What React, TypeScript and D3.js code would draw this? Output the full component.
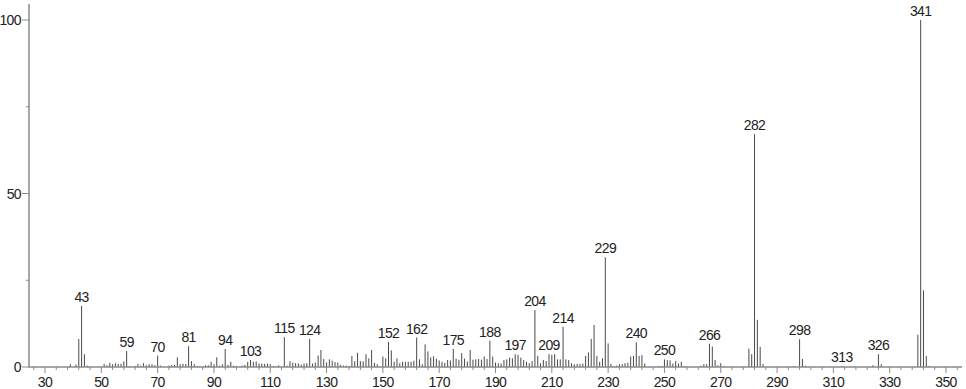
import React from "react";
import * as d3 from "d3";

const mzValues: number[] = [
  39, 41, 42, 43, 44, 45, 51, 52, 53, 54, 55, 56, 57, 58, 59, 60, 62, 63, 64, 65, 66, 67, 68, 69, 70, 71,
  74, 75, 76, 77, 78, 79, 80, 81, 82, 83, 84, 85, 87, 88, 89, 90, 91, 92, 93, 94, 95, 96, 97, 98, 100,
  101, 102, 103, 104, 105, 106, 107, 108, 109, 110, 111, 112, 113, 115, 116, 117, 118, 119, 120, 121,
  122, 123, 124, 125, 126, 127, 128, 129, 130, 131, 132, 133, 134, 135, 136, 137, 138, 139, 140, 141,
  142, 143, 144, 145, 146, 147, 148, 150, 151, 152, 153, 154, 155, 156, 157, 158, 159, 160, 161, 162,
  163, 164, 165, 166, 167, 168, 169, 170, 171, 172, 173, 174, 175, 176, 177, 178, 179, 180, 181, 182,
  183, 184, 185, 186, 187, 188, 189, 190, 191, 192, 193, 194, 195, 196, 197, 198, 199, 200, 201, 202,
  203, 204, 205, 206, 207, 208, 209, 210, 211, 212, 213, 214, 215, 216, 217, 218, 219, 220, 221, 222,
  223, 224, 225, 226, 227, 228, 229, 230, 231, 232, 233, 234, 235, 236, 237, 238, 239, 240, 241, 242,
  243, 248, 249, 250, 251, 252, 253, 254, 255, 256, 257, 263, 264, 265, 266, 267, 268, 269, 270, 271,
  280, 281, 282, 283, 284, 285, 296, 298, 299, 300, 313, 324, 326, 327, 340, 341, 342, 343, 344,
];

const intensities: number[] = [
  0.8, 0.7, 8.1, 17.6, 3.7, 0.4, 0.9, 0.5, 1.2, 0.8, 1.1, 0.9, 0.9, 1.6, 4.6, 0.3, 0.3, 0.9, 0.4, 1.1, 0.5, 0.8, 0.8, 0.5, 3.3, 0.4,
  0.4, 0.6, 0.6, 2.8, 0.8, 0.9, 0.9, 6.0, 1.7, 0.8, 0.3, 0.3, 0.5, 0.5, 1.5, 0.8, 2.8, 0.4, 0.8, 5.2, 0.6, 1.5, 0.4, 0.3, 0.4,
  0.6, 1.5, 2.0, 1.5, 1.6, 1.0, 1.0, 0.9, 1.0, 0.8, 0.3, 0.2, 0.5, 8.6, 0.4, 1.7, 1.3, 1.1, 1.0, 0.7,
  1.0, 1.1, 8.1, 1.0, 1.3, 3.3, 4.9, 2.3, 1.3, 2.2, 1.8, 1.4, 1.3, 0.6, 0.4, 0.4, 0.3, 3.2, 1.7, 4.1,
  1.7, 1.6, 3.7, 2.5, 4.9, 1.2, 0.8, 3.0, 2.5, 7.2, 4.8, 1.5, 2.5, 1.1, 1.5, 1.5, 1.5, 1.5, 1.8, 8.5,
  2.2, 0.8, 6.5, 4.5, 2.8, 3.1, 2.4, 1.9, 1.5, 1.2, 2.0, 1.9, 5.2, 2.4, 2.1, 4.0, 2.4, 1.6, 4.9, 2.1,
  2.2, 2.3, 2.1, 3.0, 2.3, 7.6, 3.0, 1.3, 1.1, 1.0, 2.0, 2.2, 2.7, 2.5, 3.7, 3.5, 2.7, 2.0, 1.5, 1.1,
  1.7, 16.4, 3.2, 1.1, 2.0, 1.7, 3.7, 3.5, 3.7, 2.2, 2.2, 11.6, 2.2, 2.0, 1.1, 0.8, 0.9, 0.9, 1.0, 3.2,
  4.2, 8.1, 12.1, 3.2, 1.5, 2.5, 31.6, 6.8, 0.9, 0.3, 0.4, 0.8, 0.8, 1.1, 1.2, 3.0, 3.2, 7.1, 3.2, 3.4,
  1.0, 0.3, 0.3, 2.2, 2.0, 1.9, 1.0, 1.7, 1.0, 1.5, 0.3, 0.4, 0.8, 0.8, 6.7, 5.9, 2.0, 0.5, 1.1, 0.3,
  5.3, 3.7, 67.1, 13.6, 5.8, 0.9, 0.3, 8.0, 2.3, 0.4, 0.3, 0.5, 3.7, 0.8, 9.3, 100, 22.1, 3.2, 0.3,
];

const labeledPeaks: number[] = [
  43, 59, 70, 81, 94, 103, 115, 124, 152, 162, 175, 188, 197, 204, 209, 214, 229, 240, 250, 266, 282, 298, 313, 326, 341,
];

const xMajorTicks: number[] = [30, 50, 70, 90, 110, 130, 150, 170, 190, 210, 230, 250, 270, 290, 310, 330, 350];
const yMajorTicks: number[] = [0, 50, 100];
const yMinorTicks: number[] = [25, 75];

const W = 966;
const H = 389;
const FONT = "'Liberation Sans', Arial, sans-serif";
const LS = -0.6;

export default function App() {
  const x = d3.scaleLinear().domain([30, 350]).range([45, 946]);
  const y = d3.scaleLinear().domain([0, 100]).range([367, 20]);
  const x0 = 29;
  const y0 = y(0);
  const minorX = d3.range(26, 355, 4).filter((v) => (v - 30) % 20 !== 0);
  const peaks = mzValues.map((m, i) => ({ m, v: intensities[i] }));
  const lookup = new Map(peaks.map((p) => [p.m, p.v]));
  const axisColor = "#8a8a8a";
  const barColor = "#4a4a4a";

  return (
    <svg
      width={W}
      height={H}
      style={{ position: "absolute", left: 0, top: 0, background: "#fff" }}
    >
      {peaks.map((p) => (
        <line
          key={p.m}
          x1={x(p.m)}
          x2={x(p.m)}
          y1={y0}
          y2={y(p.v)}
          stroke={barColor}
          strokeWidth={1}
        />
      ))}
      <line x1={x0} x2={x0} y1={4} y2={y0 + 0.5} stroke={axisColor} strokeWidth={1.5} />
      <line x1={x0} x2={962} y1={y0} y2={y0} stroke={axisColor} strokeWidth={1.5} />
      {yMajorTicks.map((t) => (
        <g key={"ym" + t}>
          <line x1={x0 - 7} x2={x0} y1={y(t)} y2={y(t)} stroke={axisColor} strokeWidth={1} />
          <text
            x={x0 - 8}
            y={y(t) + 5}
            textAnchor="end"
            fontFamily={FONT}
            fontSize={14}
            letterSpacing={LS}
            fill="#222"
          >
            {t}
          </text>
        </g>
      ))}
      {yMinorTicks.map((t) => (
        <line key={"yn" + t} x1={x0 - 3} x2={x0} y1={y(t)} y2={y(t)} stroke={axisColor} strokeWidth={1} />
      ))}
      {xMajorTicks.map((t) => (
        <g key={"xm" + t}>
          <line x1={x(t)} x2={x(t)} y1={y0} y2={y0 + 6} stroke={axisColor} strokeWidth={1} />
          <text
            x={x(t)}
            y={387}
            textAnchor="middle"
            fontFamily={FONT}
            fontSize={14}
            letterSpacing={LS}
            fill="#222"
          >
            {t}
          </text>
        </g>
      ))}
      {minorX.map((t) => (
        <line key={"xn" + t} x1={x(t)} x2={x(t)} y1={y0} y2={y0 + 3} stroke={axisColor} strokeWidth={1} />
      ))}
      {labeledPeaks.map((m) => (
        <text
          key={"l" + m}
          x={x(m)}
          y={y(lookup.get(m) ?? 0) - 4}
          textAnchor="middle"
          fontFamily={FONT}
          fontSize={14}
          letterSpacing={LS}
          fill="#222"
        >
          {m}
        </text>
      ))}
    </svg>
  );
}
